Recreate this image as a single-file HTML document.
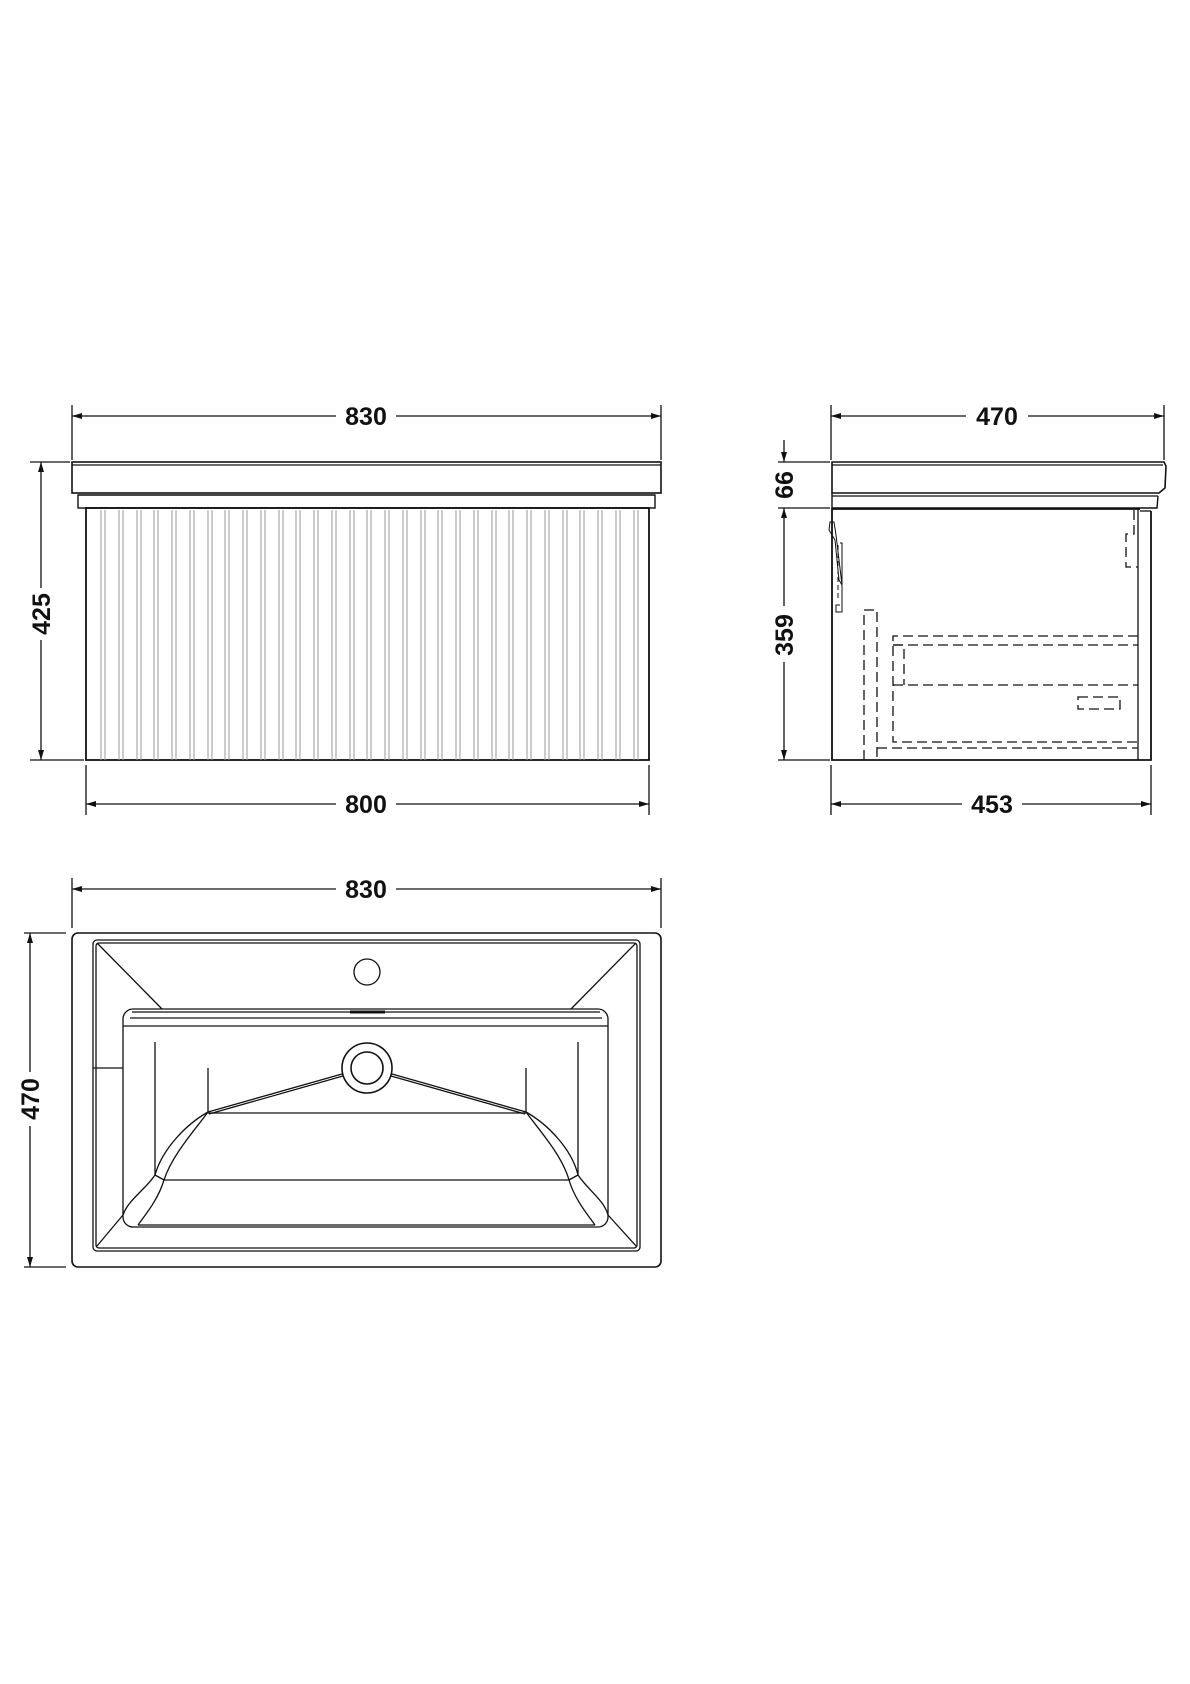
<!DOCTYPE html>
<html><head><meta charset="utf-8"><style>
html,body{margin:0;padding:0;background:#fff}
svg{display:block}
text{font-family:"Liberation Sans",sans-serif;font-weight:bold;font-size:25px;fill:#111}
</style></head><body>
<svg width="1190" height="1684" viewBox="0 0 1190 1684" xmlns="http://www.w3.org/2000/svg">
<defs>
<marker id="a" viewBox="0 0 10 6" refX="10" refY="3" markerWidth="10" markerHeight="6" orient="auto-start-reverse" markerUnits="userSpaceOnUse"><path d="M0,0 L10,3 L0,6 Z" fill="#111"/></marker>
</defs>
<g stroke="#111" fill="none" stroke-width="1.3">
<!-- FRONT VIEW -->
<line x1="72" y1="405" x2="72" y2="460"/>
<line x1="661" y1="405" x2="661" y2="460"/>
<line x1="72" y1="416" x2="336" y2="416" marker-start="url(#a)"/>
<line x1="396" y1="416" x2="661" y2="416" marker-end="url(#a)"/>
<rect x="72" y="462" width="589" height="31" stroke-width="1.6"/>
<line x1="72" y1="465" x2="661" y2="465"/>
<line x1="78" y1="495" x2="655" y2="495"/>
<rect x="78" y="495" width="577" height="13" stroke-width="1.4"/>
<rect x="86" y="508" width="563" height="252" stroke-width="1.8"/>
<g stroke="#999" stroke-width="1">
<line x1="101" y1="510" x2="101" y2="760"/><line x1="105" y1="510" x2="105" y2="760"/>
</g>
<g id="fl" stroke="#999" stroke-width="1"></g>
<line x1="30" y1="462" x2="70" y2="462"/>
<line x1="30" y1="760" x2="84" y2="760"/>
<line x1="41" y1="462" x2="41" y2="588" marker-start="url(#a)"/>
<line x1="41" y1="640" x2="41" y2="760" marker-end="url(#a)"/>
<line x1="86" y1="765" x2="86" y2="815"/>
<line x1="649" y1="765" x2="649" y2="815"/>
<line x1="86" y1="804" x2="336" y2="804" marker-start="url(#a)"/>
<line x1="396" y1="804" x2="649" y2="804" marker-end="url(#a)"/>

<!-- SIDE VIEW -->
<line x1="831" y1="405" x2="831" y2="460"/>
<line x1="1164" y1="405" x2="1164" y2="460"/>
<line x1="831" y1="416" x2="966" y2="416" marker-start="url(#a)"/>
<line x1="1028" y1="416" x2="1164" y2="416" marker-end="url(#a)"/>
<path d="M832,462 L1164,462 L1166,466 L1165,488 L1159,493 L832,493 Z" stroke-width="1.6"/>
<line x1="832" y1="465" x2="1163" y2="465"/>
<line x1="832" y1="496" x2="1158" y2="496"/>
<path d="M832,493 L832,508 L1157,508 L1158,496" stroke-width="1.4"/>
<path d="M832,508 L832,760 L1151,760 L1151,511" stroke-width="1.8"/>
<line x1="832" y1="509" x2="1140" y2="509" stroke-width="1.8"/>
<line x1="1138" y1="509" x2="1138" y2="760"/>
<line x1="1140" y1="511" x2="1151" y2="511"/>
<!-- hinge -->
<path d="M829,530 L830,522 L834,522 L836,535 L842,585 L839,580 L835,540 Z" stroke-width="1"/>
<path d="M840,543 L842,543 L842,612 L836,612 L836,605 L840,605" stroke-width="1"/>
<line x1="838" y1="545" x2="838" y2="600" stroke-dasharray="5,3" stroke-width="1"/>
<!-- dashed parts -->
<g stroke-dasharray="10,5" stroke-width="1.3">
<path d="M864,760 L864,610 L877,610 L877,760"/>
<path d="M1138,636 L893,636 L893,742 L1138,742"/>
<line x1="893" y1="645" x2="1138" y2="645"/>
<line x1="893" y1="685" x2="1138" y2="685"/>
<path d="M893,645 L904,645 L904,685"/>
<line x1="877" y1="748" x2="1138" y2="748"/>
<rect x="1078" y="697" width="42" height="12"/>
<path d="M1134,510 L1134,534 L1126,534 L1126,567 L1138,567"/>
</g>
<!-- side dims -->
<line x1="778" y1="462" x2="830" y2="462"/>
<line x1="778" y1="508" x2="830" y2="508"/>
<line x1="778" y1="760" x2="830" y2="760"/>
<line x1="784" y1="440" x2="784" y2="462" marker-end="url(#a)"/>
<line x1="784" y1="508" x2="784" y2="606" marker-start="url(#a)"/>
<line x1="784" y1="662" x2="784" y2="760" marker-end="url(#a)"/>
<line x1="831" y1="765" x2="831" y2="815"/>
<line x1="1151" y1="765" x2="1151" y2="815"/>
<line x1="831" y1="804" x2="962" y2="804" marker-start="url(#a)"/>
<line x1="1022" y1="804" x2="1151" y2="804" marker-end="url(#a)"/>

<!-- TOP VIEW -->
<line x1="72" y1="878" x2="72" y2="928"/>
<line x1="661" y1="878" x2="661" y2="928"/>
<line x1="72" y1="889" x2="336" y2="889" marker-start="url(#a)"/>
<line x1="396" y1="889" x2="661" y2="889" marker-end="url(#a)"/>
<line x1="24" y1="933" x2="66" y2="933"/>
<line x1="24" y1="1267" x2="66" y2="1267"/>
<line x1="30" y1="933" x2="30" y2="1072" marker-start="url(#a)"/>
<line x1="30" y1="1126" x2="30" y2="1267" marker-end="url(#a)"/>
<rect x="72" y="933" width="589" height="334" rx="6" stroke-width="1.6"/>
<rect x="93" y="940" width="547" height="311" rx="4"/>
<rect x="96" y="943" width="541" height="305" rx="3"/>
<rect x="123" y="1009" width="485" height="218" rx="10"/>
<line x1="132" y1="1012" x2="600" y2="1012"/>
<line x1="130" y1="1018" x2="602" y2="1018"/>
<line x1="123" y1="1026" x2="608" y2="1026"/>
<line x1="350" y1="1012" x2="385" y2="1012" stroke-width="3"/>
<line x1="97" y1="943" x2="162" y2="1009"/>
<line x1="636" y1="943" x2="571" y2="1009"/>
<line x1="123" y1="1215" x2="97" y2="1246"/>
<line x1="608" y1="1215" x2="636" y2="1246"/>
<line x1="93" y1="1068" x2="123" y2="1068"/>
<circle cx="367" cy="972" r="13"/>
<circle cx="367" cy="1068" r="25" stroke-width="1.6"/>
<circle cx="367" cy="1068" r="16" stroke-width="1.6"/>
<line x1="155" y1="1042" x2="155" y2="1175"/>
<line x1="578" y1="1042" x2="578" y2="1175"/>
<line x1="208" y1="1068" x2="208" y2="1112"/>
<line x1="526" y1="1068" x2="526" y2="1112"/>
<line x1="208" y1="1113" x2="526" y2="1113"/>
<line x1="164" y1="1180" x2="569" y2="1180"/>
<line x1="138" y1="1225" x2="595" y2="1225"/>
<path d="M208,1112 L342,1074 M209,1114 L343,1076"/>
<path d="M526,1112 L392,1074 M525,1114 L391,1076"/>
<path d="M208,1112 C185,1125 162,1150 155,1175 C145,1190 128,1200 123,1215"/>
<path d="M208,1112 C195,1130 172,1155 164,1180 C158,1200 145,1215 138,1225"/>
<path d="M526,1112 C549,1125 572,1150 578,1175 C588,1190 604,1200 608,1215"/>
<path d="M526,1112 C539,1130 562,1155 569,1180 C575,1200 588,1215 595,1225"/>
<line x1="155" y1="1175" x2="164" y2="1180"/>
<line x1="578" y1="1175" x2="569" y2="1180"/>
</g>
<!-- flutes -->
<g stroke="#9a9a9a" stroke-width="1">
<path d="M101,510V760M105,510V760M119,510V760M123,510V760M137,510V760M141,510V760M154,510V760M158,510V760M172,510V760M176,510V760M190,510V760M194,510V760M208,510V760M212,510V760M225,510V760M229,510V760M243,510V760M247,510V760M261,510V760M265,510V760M279,510V760M283,510V760M296,510V760M300,510V760M314,510V760M318,510V760M332,510V760M336,510V760M350,510V760M354,510V760M367,510V760M371,510V760M385,510V760M389,510V760M403,510V760M407,510V760M421,510V760M425,510V760M438,510V760M442,510V760M456,510V760M460,510V760M474,510V760M478,510V760M492,510V760M496,510V760M509,510V760M513,510V760M527,510V760M531,510V760M545,510V760M549,510V760M563,510V760M567,510V760M580,510V760M584,510V760M598,510V760M602,510V760M616,510V760M620,510V760M634,510V760M638,510V760"/>
</g>
<text x="366" y="425" text-anchor="middle">830</text>
<text x="366" y="813" text-anchor="middle">800</text>
<text x="997" y="425" text-anchor="middle">470</text>
<text x="992" y="813" text-anchor="middle">453</text>
<text x="366" y="898" text-anchor="middle">830</text>
<text transform="translate(50,614) rotate(-90)" text-anchor="middle">425</text>
<text transform="translate(793,485) rotate(-90)" text-anchor="middle">66</text>
<text transform="translate(793,635) rotate(-90)" text-anchor="middle">359</text>
<text transform="translate(39,1099) rotate(-90)" text-anchor="middle">470</text>
</svg>
</body></html>
